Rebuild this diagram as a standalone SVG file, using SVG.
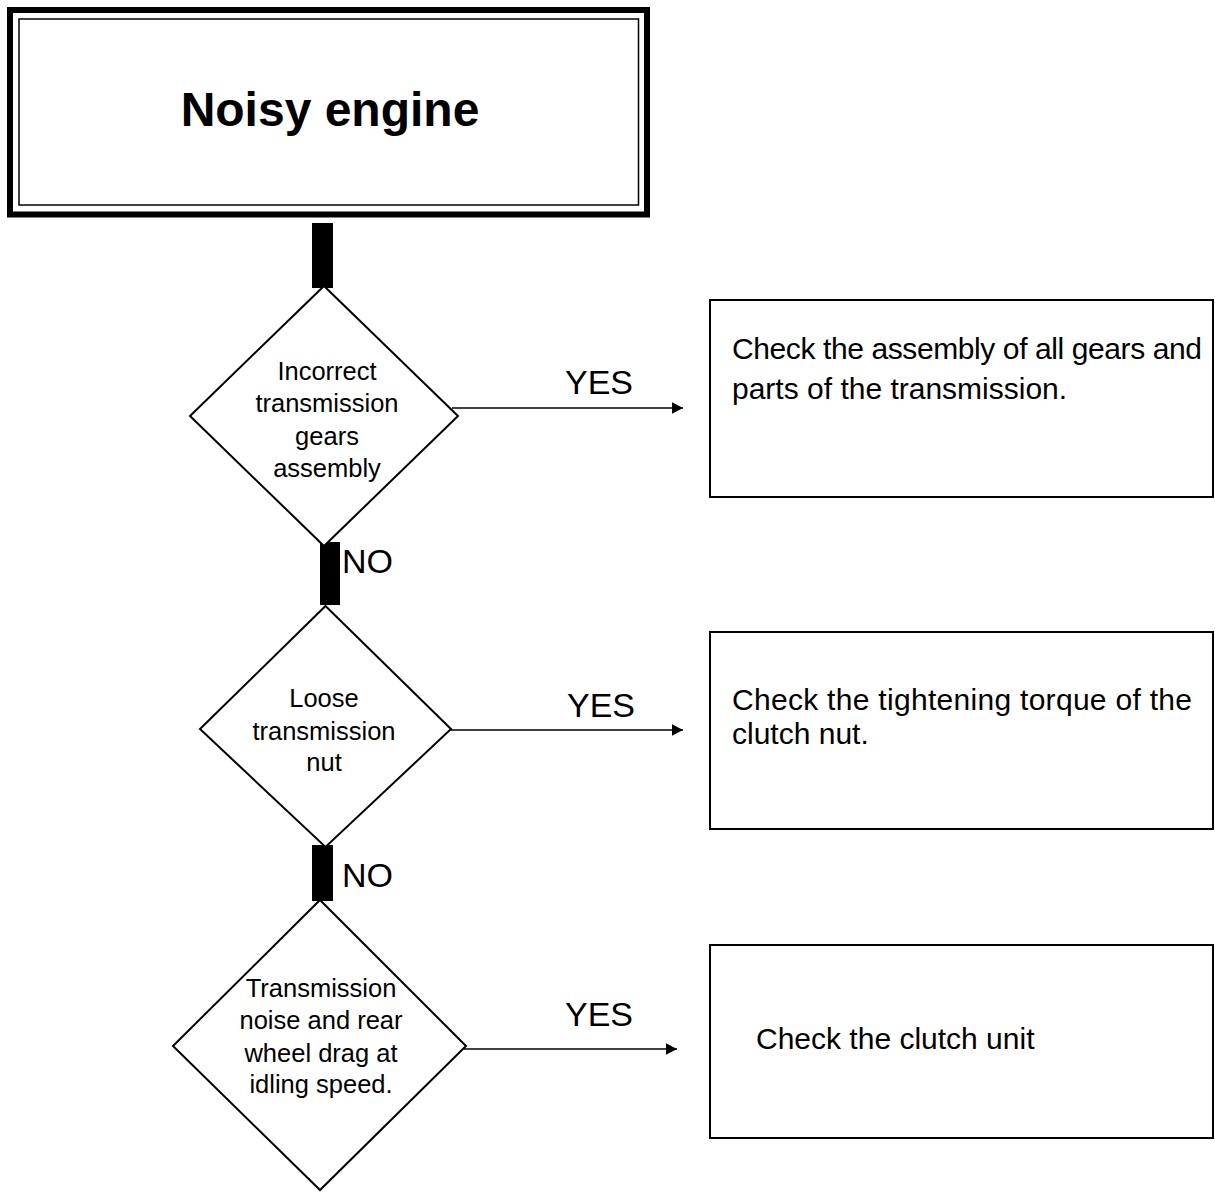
<svg xmlns="http://www.w3.org/2000/svg" width="1215" height="1192" viewBox="0 0 1215 1192">
<style>
.t{font-family:"Liberation Sans",Arial,sans-serif;fill:#000}
.d{font-size:25.5px;text-anchor:middle}
.b{font-size:30px}
.l{font-size:34px}
.shape{fill:#fff;stroke:#000;stroke-width:2}
.stub{fill:#000}
.arr{stroke:#000;stroke-width:1.5;fill:none}
</style>
<defs>
<marker id="ah" markerWidth="8" markerHeight="8" refX="7.5" refY="4" orient="auto" markerUnits="strokeWidth">
<path d="M0,0 L7.5,4 L0,8 Z" fill="#000"/>
</marker>
</defs>
<rect width="1215" height="1192" fill="#fff"/>
<g id="connectors">
<rect class="stub" x="312" y="223" width="21" height="65"/>
<rect class="stub" x="320" y="542" width="20" height="63"/>
<rect class="stub" x="312" y="845" width="21" height="56"/>
<line class="arr" x1="452" y1="408" x2="683" y2="408" marker-end="url(#ah)"/>
<line class="arr" x1="451" y1="730" x2="683" y2="730" marker-end="url(#ah)"/>
<line class="arr" x1="464" y1="1049" x2="677" y2="1049" marker-end="url(#ah)"/>
<text class="t l" x="565" y="394">YES</text>
<text class="t l" x="567" y="717">YES</text>
<text class="t l" x="565" y="1026">YES</text>
<text class="t l" x="342" y="573">NO</text>
<text class="t l" x="342" y="887">NO</text>
</g>
<g id="start">
<rect x="10" y="10" width="637" height="204.5" fill="#fff" stroke="#000" stroke-width="6"/>
<rect x="19" y="19" width="619.5" height="186" fill="none" stroke="#000" stroke-width="1.5"/>
<text class="t" x="330" y="126" font-size="48" font-weight="bold" text-anchor="middle">Noisy engine</text>
</g>
<g id="q1">
<polygon class="shape" points="324,286 458,416 324,546 190,416"/>
<text class="t d" x="327" y="380">Incorrect</text>
<text class="t d" x="327" y="412">transmission</text>
<text class="t d" x="327" y="445">gears</text>
<text class="t d" x="327" y="477">assembly</text>
</g>
<g id="q2">
<polygon class="shape" points="325.5,606 451,729 325.5,847 200,729"/>
<text class="t d" x="324" y="707">Loose</text>
<text class="t d" x="324" y="740">transmission</text>
<text class="t d" x="324" y="771">nut</text>
</g>
<g id="q3">
<polygon class="shape" points="320,900 466,1046 320,1190 173,1046"/>
<text class="t d" x="321" y="997">Transmission</text>
<text class="t d" x="321" y="1029">noise and rear</text>
<text class="t d" x="321" y="1062">wheel drag at</text>
<text class="t d" x="321" y="1093">idling speed.</text>
</g>
<g id="a1">
<rect class="shape" x="710" y="300" width="503" height="197"/>
<text class="t b" x="732" y="359" textLength="470" lengthAdjust="spacing">Check the assembly of all gears and</text>
<text class="t b" x="732" y="399">parts of the transmission.</text>
</g>
<g id="a2">
<rect class="shape" x="710" y="632" width="503" height="197"/>
<text class="t b" x="732" y="710" textLength="460" lengthAdjust="spacing">Check the tightening torque of the</text>
<text class="t b" x="732" y="744">clutch nut.</text>
</g>
<g id="a3">
<rect class="shape" x="710" y="945" width="503" height="193"/>
<text class="t b" x="756" y="1049">Check the clutch unit</text>
</g>
</svg>
